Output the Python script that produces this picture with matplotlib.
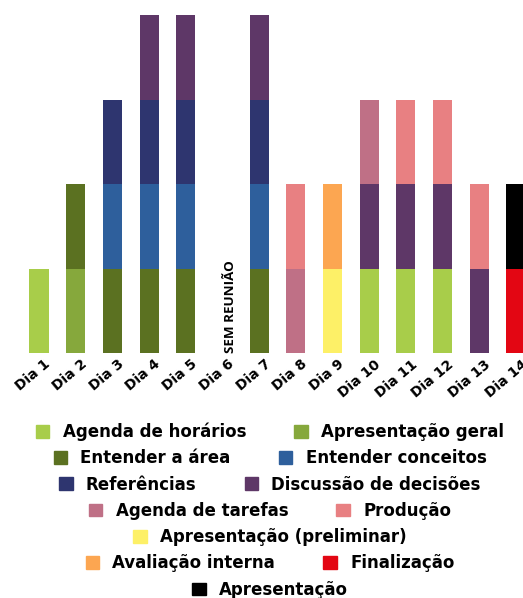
import numpy as np
import matplotlib
matplotlib.use("Agg")
import matplotlib.pyplot as plt
import matplotlib.transforms as mtransforms
from matplotlib.patches import Patch

plt.rcParams['font.family'] = ['DejaVu Sans']

days = ["Dia 1", "Dia 2", "Dia 3", "Dia 4", "Dia 5", "Dia 6", "Dia 7",
        "Dia 8", "Dia 9", "Dia 10", "Dia 11", "Dia 12", "Dia 13", "Dia 14"]

# one segment per activity per day, stacked in this order
agenda_horarios   = [1, 0, 0, 0, 0, 0, 0, 0, 0, 1, 1, 1, 0, 0]
apresent_geral    = [0, 1, 0, 0, 0, 0, 0, 0, 0, 0, 0, 0, 0, 0]
entender_area     = [0, 1, 1, 1, 1, 0, 1, 0, 0, 0, 0, 0, 0, 0]
entender_conceit  = [0, 0, 1, 1, 1, 0, 1, 0, 0, 0, 0, 0, 0, 0]
referencias       = [0, 0, 1, 1, 1, 0, 1, 0, 0, 0, 0, 0, 0, 0]
discussao         = [0, 0, 0, 1, 1, 0, 1, 0, 0, 1, 1, 1, 1, 0]
agenda_tarefas    = [0, 0, 0, 0, 0, 0, 0, 1, 0, 1, 0, 0, 0, 0]
producao          = [0, 0, 0, 0, 0, 0, 0, 1, 0, 0, 1, 1, 1, 0]
apresent_prelim   = [0, 0, 0, 0, 0, 0, 0, 0, 1, 0, 0, 0, 0, 0]
avaliacao         = [0, 0, 0, 0, 0, 0, 0, 0, 1, 0, 0, 0, 0, 0]
finalizacao       = [0, 0, 0, 0, 0, 0, 0, 0, 0, 0, 0, 0, 0, 1]
apresentacao      = [0, 0, 0, 0, 0, 0, 0, 0, 0, 0, 0, 0, 0, 1]

series = [
    ("Agenda de horários", agenda_horarios, "#a8cd4a"),
    ("Apresentação geral", apresent_geral, "#86a83c"),
    ("Entender a área", entender_area, "#5b7121"),
    ("Entender conceitos", entender_conceit, "#2e5f9c"),
    ("Referências", referencias, "#2e356f"),
    ("Discussão de decisões", discussao, "#5e3767"),
    ("Agenda de tarefas", agenda_tarefas, "#bf7086"),
    ("Produção", producao, "#e88082"),
    ("Apresentação (preliminar)", apresent_prelim, "#fdf067"),
    ("Avaliação interna", avaliacao, "#fca651"),
    ("Finalização", finalizacao, "#e30613"),
    ("Apresentação", apresentacao, "#000000"),
]

legend_rows = [
    ["Agenda de horários", "Apresentação geral"],
    ["Entender a área", "Entender conceitos"],
    ["Referências", "Discussão de decisões"],
    ["Agenda de tarefas", "Produção"],
    ["Apresentação (preliminar)"],
    ["Avaliação interna", "Finalização"],
    ["Apresentação"],
]

W, H = 523, 598
fig = plt.figure(figsize=(W / 100, H / 100), dpi=100)
ax = fig.add_axes([0, (H - 353) / H, 1, (353 - 15) / H])

x = np.arange(1, len(days) + 1)
bottom = np.zeros(len(days))
colors = {}
for name, vals, col in series:
    vals = np.array(vals, dtype=float)
    ax.bar(x, vals, bottom=bottom, width=0.52, color=col, linewidth=0)
    bottom += vals
    colors[name] = col

ax.set_xlim(-0.063, 14.19)
ax.set_ylim(0, 4)
for s in ax.spines.values():
    s.set_visible(False)
ax.set_yticks([])
ax.set_xticks(x)
ax.set_xticklabels(days, rotation=40, ha='right', rotation_mode='anchor',
                   fontsize=10, fontweight='bold')
ax.tick_params(axis='x', length=0, pad=3)
shift = mtransforms.ScaledTranslation(5 / 100, 0, fig.dpi_scale_trans)
for lbl in ax.get_xticklabels():
    lbl.set_transform(lbl.get_transform() + shift)

ax.text(6.22, 0.0, "SEM REUNIÃO", rotation=90, ha='center', va='bottom',
        fontsize=9.6, fontweight='bold',
        family=['Liberation Sans Narrow', 'Open Sans'])

y0 = 432
for i, row in enumerate(legend_rows):
    handles = [Patch(color=colors[n], label=n) for n in row]
    fig.legend(handles=handles, loc='center', ncol=len(row),
               bbox_to_anchor=(270 / W, 1 - (y0 + i * 26.3) / H),
               frameon=False, handlelength=0.8, handleheight=0.8,
               handletextpad=0.8, columnspacing=2.9,
               prop={'size': 12, 'weight': 'bold'}, borderpad=0)

fig.savefig("out.png", dpi=100)
